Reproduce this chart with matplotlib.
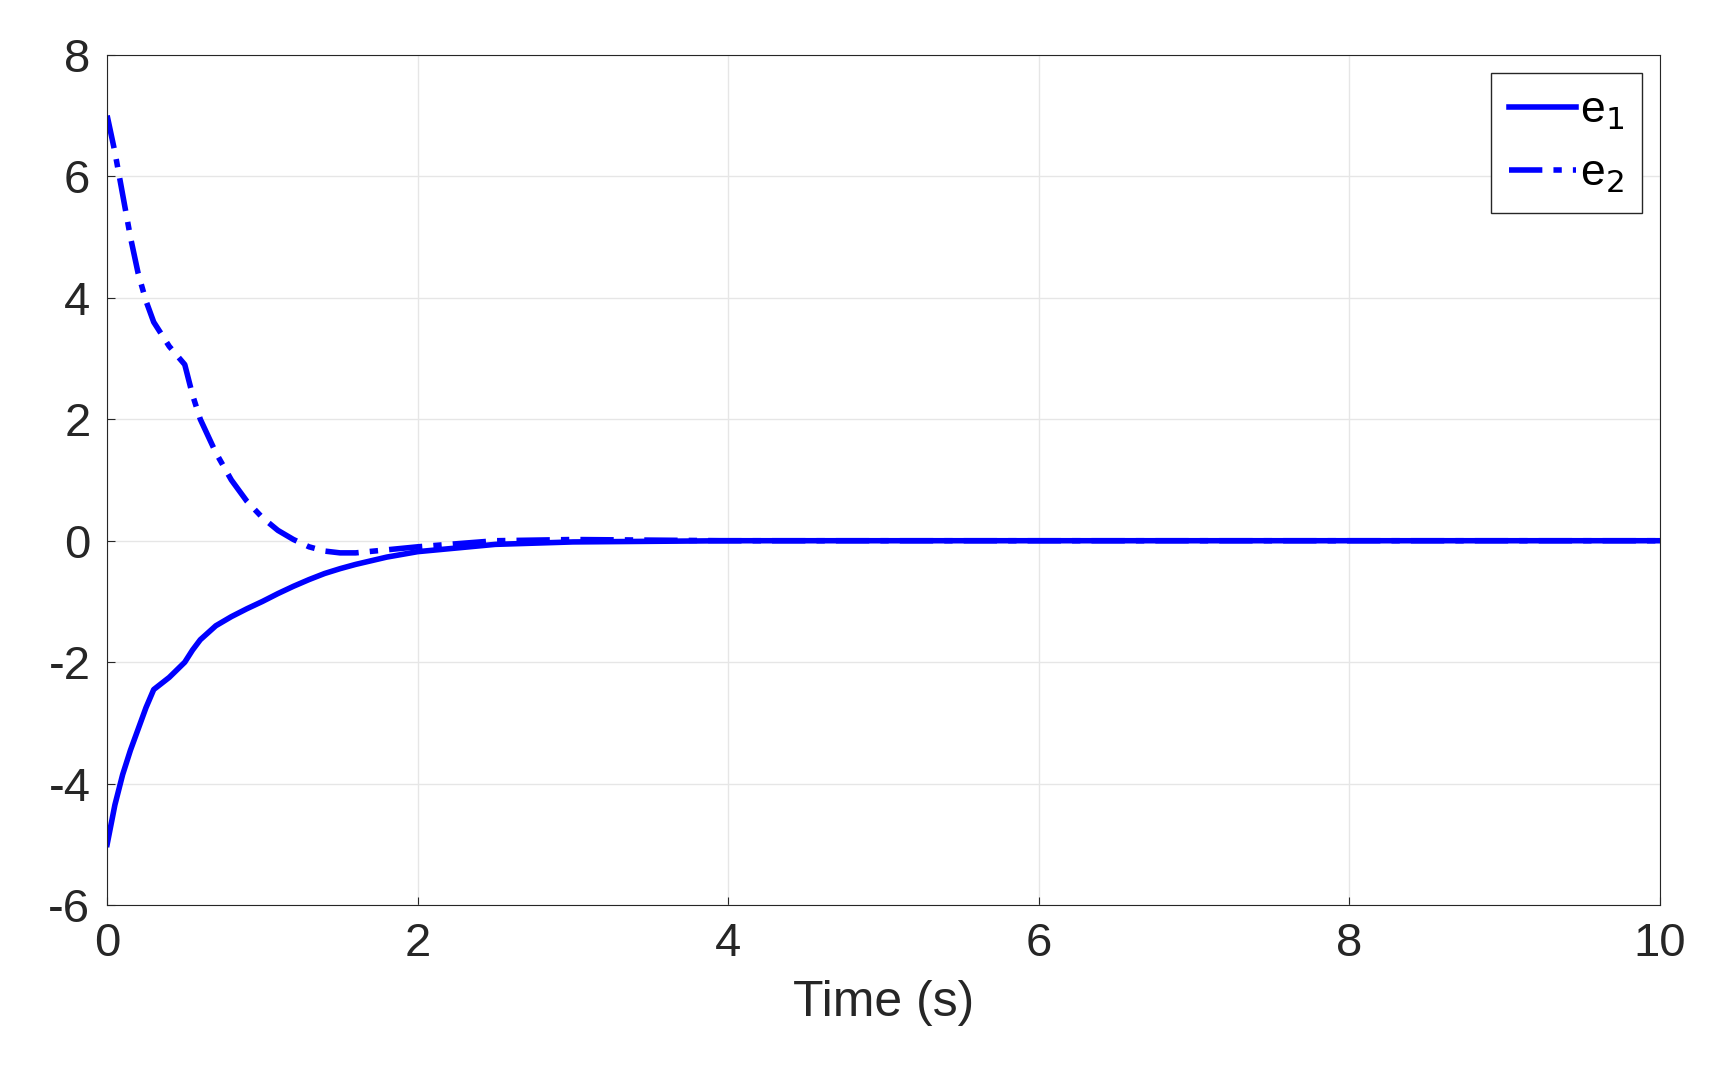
import numpy as np
import matplotlib.pyplot as plt

plt.rcParams['font.family'] = ['Liberation Sans', 'DejaVu Sans']
plt.rcParams['axes.unicode_minus'] = False

t = [0, 0.05, 0.1, 0.15, 0.2, 0.25, 0.3, 0.4, 0.5, 0.55, 0.6, 0.7, 0.8, 0.9, 1.0, 1.1, 1.2, 1.3,
     1.4, 1.5, 1.6, 1.8, 2.0, 2.5, 3.0, 4.0, 10.0]
e1 = [-5, -4.35, -3.85, -3.45, -3.1, -2.75, -2.45, -2.25, -2.0, -1.8, -1.63, -1.4, -1.25, -1.12,
      -1.0, -0.87, -0.75, -0.64, -0.54, -0.46, -0.39, -0.27, -0.18, -0.06, -0.02, 0, 0]
e2 = [7, 6.4, 5.7, 5.0, 4.4, 3.95, 3.6, 3.2, 2.9, 2.4, 2.0, 1.45, 1.0, 0.65, 0.38, 0.17,
      0.02, -0.1, -0.17, -0.2, -0.2, -0.15, -0.1, 0.0, 0.02, 0, 0]

fig = plt.figure(figsize=(17.14, 10.75), dpi=100)
ax = fig.add_axes([0.0625, 0.158, 0.906, 0.791])
ax.plot(t, e1, color='#0000ff', lw=4, label='e$_1$')
ax.plot(t, e2, color='#0000ff', lw=4, ls=(0, (6, 2, 1.5, 2)), label='e$_2$')
ax.set_xlim(0, 10)
ax.set_ylim(-6, 8)
ax.set_xticks(range(0, 11, 2))
ax.set_yticks(range(-6, 9, 2))
ax.grid(True, color='#e6e6e6', lw=1)
ax.tick_params(labelsize=34, direction='in', length=6, pad=12, colors='#262626')
for s in ax.spines.values():
    s.set_color('#262626')
ax.set_xlabel('Time (s)', fontsize=36, color='#262626', labelpad=10)
ax.legend(loc='upper right', fontsize=32, fancybox=False, edgecolor='#262626',
          handlelength=1.5, handletextpad=0.1, borderaxespad=0.4, labelspacing=0.5,
          framealpha=1)
fig.savefig('out.png')
